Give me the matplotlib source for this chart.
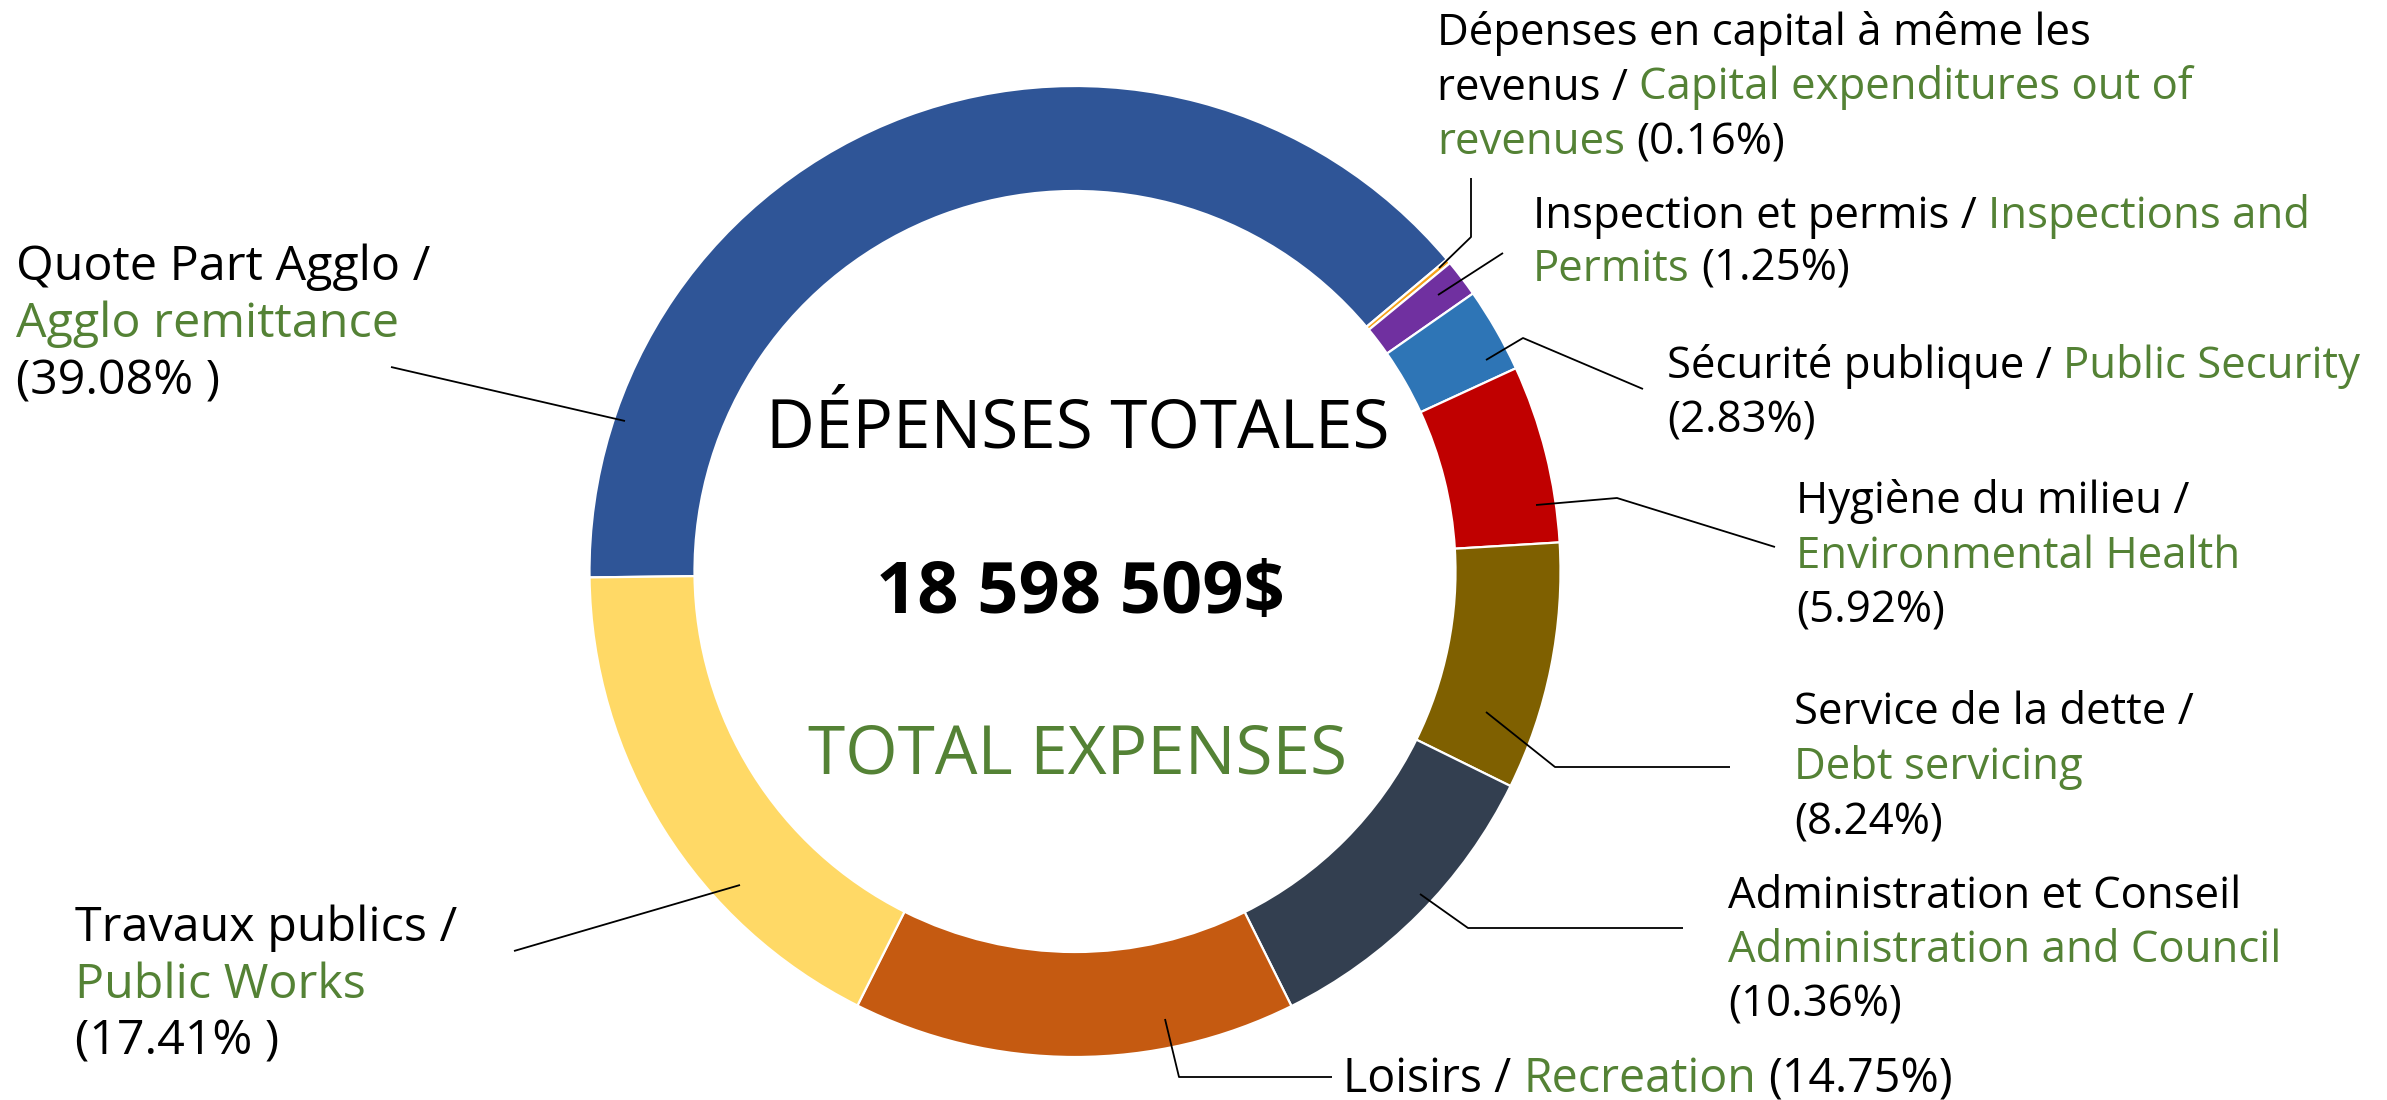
import matplotlib
matplotlib.use("Agg")
import matplotlib.pyplot as plt

# data
categories_fr = ['Quote Part Agglo', 'Dépenses en capital à même les revenus',
                 'Inspection et permis', 'Sécurité publique', 'Hygiène du milieu',
                 'Service de la dette', 'Administration et Conseil', 'Loisirs',
                 'Travaux publics']
categories_en = ['Agglo remittance', 'Capital expenditures out of revenues',
                 'Inspections and Permits', 'Public Security', 'Environmental Health',
                 'Debt servicing', 'Administration and Council', 'Recreation',
                 'Public Works']
percents = [39.08, 0.16, 1.25, 2.83, 5.92, 8.24, 10.36, 14.75, 17.41]
total_txt = '18 598 509$'

colors = ['#2F5597', '#F7A21B', '#7030A0', '#2E75B6', '#C00000',
          '#7F6000', '#333F50', '#C55A11', '#FFD966']
K = 'black'
G = '#548235'

W, H = 2387, 1100
FONT = 'Open Sans'


def pct(i, gap=False):
    s = '(%.2f%%' % percents[i]
    return s + (' )' if gap else ')')


# label lines: each line is a list of (text, colour) segments separated by a space
label_lines = [
    [[('Quote Part Agglo /', K)], [(categories_en[0], G)], [(pct(0, True), K)]],
    [[('Dépenses en capital à même les', K)],
     [('revenus /', K), ('Capital expenditures out of', G)],
     [('revenues', G), (pct(1), K)]],
    [[(categories_fr[2] + ' /', K), ('Inspections and', G)],
     [('Permits', G), (pct(2), K)]],
    [[(categories_fr[3] + ' /', K), (categories_en[3], G)], [(pct(3), K)]],
    [[(categories_fr[4] + ' /', K)], [(categories_en[4], G)], [(pct(4), K)]],
    [[(categories_fr[5] + ' /', K)], [(categories_en[5], G)], [(pct(5), K)]],
    [[(categories_fr[6], K)], [(categories_en[6], G)], [(pct(6), K)]],
    [[(categories_fr[7] + ' /', K), (categories_en[7], G), (pct(7), K)]],
    [[(categories_fr[8] + ' /', K)], [(categories_en[8], G)], [(pct(8, True), K)]],
]

# layout in pixels (origin top-left): left x, first baseline, line spacing, font size
label_pos = [(16, 280, 57, 34.8), (1437, 45, 54.5, 31.5), (1533, 228, 53, 31.5),
             (1667, 378, 54, 31.5), (1796, 513, 54.5, 31.5), (1794, 724, 55, 31.5),
             (1728, 908, 54, 31.5), (1343, 1092, 0, 33.5), (75, 941, 56.5, 34.8)]
leaders = [
    [(391, 367), (625, 421)],
    [(1471, 178), (1471, 237), (1439, 268)],
    [(1503, 253), (1438, 295)],
    [(1643, 389), (1523, 338), (1486, 360)],
    [(1775, 547), (1617, 498), (1536, 505)],
    [(1730, 767), (1555, 767), (1486, 712)],
    [(1683, 928), (1468, 928), (1420, 894)],
    [(1332, 1077), (1179, 1077), (1165, 1019)],
    [(514, 951), (740, 885)],
]

fig = plt.figure(figsize=(W / 100, H / 100), dpi=100)
ax = fig.add_axes([0, 0, 1, 1])
ax.set_xlim(0, W)
ax.set_ylim(0, H)
ax.axis('off')

cx, cy, r = 1075, 571.5, 485.5
ax.pie(percents, colors=colors, startangle=180.7, counterclock=False,
       center=(cx, H - cy), radius=r,
       wedgeprops=dict(width=105, edgecolor='white', linewidth=1.6))
ax.set_xlim(0, W)
ax.set_ylim(0, H)
ax.set_aspect('auto')

renderer = fig.canvas.get_renderer()


def text_width(s, size, weight='normal'):
    t = ax.text(0, 0, s, fontsize=size, family=FONT, weight=weight)
    w = t.get_window_extent(renderer).width
    t.remove()
    return w


for lines, (x0, y0, sp, size) in zip(label_lines, label_pos):
    space = text_width('a a', size) - text_width('aa', size)
    for i, segs in enumerate(lines):
        x = x0
        y = H - (y0 + i * sp)
        for txt, col in segs:
            t = ax.text(x, y, txt, color=col, fontsize=size, family=FONT,
                        ha='left', va='baseline')
            x += t.get_window_extent(renderer).width + space

for pts in leaders:
    xs = [p[0] for p in pts]
    ys = [H - p[1] for p in pts]
    ax.plot(xs, ys, color='black', lw=1.3, solid_capstyle='butt')

# centre text
ax.text(1078, H - 448, 'DÉPENSES TOTALES', fontsize=48.5, family=FONT,
        ha='center', va='baseline', color=K)
ax.text(1080, H - 613, total_txt, fontsize=52, family=FONT, weight='bold',
        ha='center', va='baseline', color=K)
ax.text(1077, H - 773, 'TOTAL EXPENSES', fontsize=48.5, family=FONT,
        ha='center', va='baseline', color=G)

fig.savefig('out.png', dpi=100, facecolor='white')
